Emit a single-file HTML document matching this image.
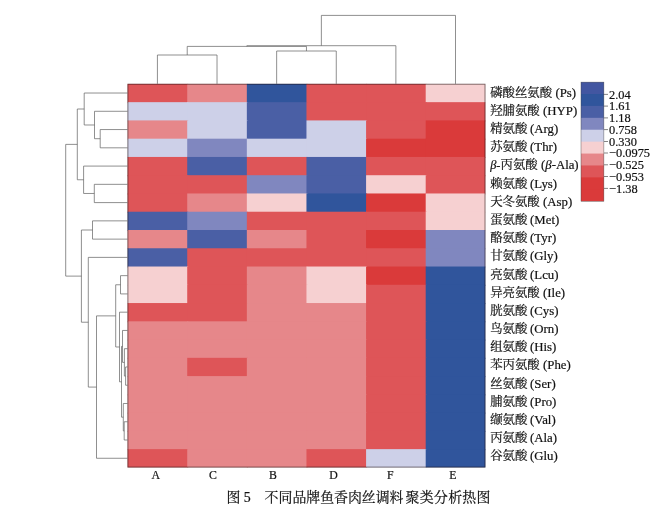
<!DOCTYPE html>
<html lang="zh"><head><meta charset="utf-8"><title>图 5 不同品牌鱼香肉丝调料聚类分析热图</title>
<style>
html,body{margin:0;padding:0;background:#fff;}
body{width:672px;height:510px;overflow:hidden;}
svg{display:block;}
text{font-family:"Liberation Serif","Noto Serif CJK SC",serif;fill:#111;stroke:#111;stroke-width:0.2px;}
.rl{font-size:12.4px;}
.en{font-size:12.8px;}
.cl{font-size:11.8px;}
.lg{font-size:12.4px;}
.cap{font-size:13.9px;}
.d{stroke:#606060;stroke-width:0.7;fill:none;}
</style></head><body>
<svg width="672" height="510" viewBox="0 0 672 510">
<rect x="0" y="0" width="672" height="510" fill="#fff"/>

<g>
<rect x="127.60" y="83.90" width="60.62" height="19.26" fill="#de5558"/>
<rect x="187.22" y="83.90" width="60.62" height="19.26" fill="#e6878a"/>
<rect x="246.84" y="83.90" width="60.62" height="19.26" fill="#30559c"/>
<rect x="306.46" y="83.90" width="60.62" height="19.26" fill="#de5558"/>
<rect x="366.08" y="83.90" width="60.62" height="19.26" fill="#de5558"/>
<rect x="425.70" y="83.90" width="59.62" height="19.26" fill="#f6d0d1"/>
<rect x="127.60" y="102.16" width="60.62" height="19.26" fill="#cdd0e8"/>
<rect x="187.22" y="102.16" width="60.62" height="19.26" fill="#cdd0e8"/>
<rect x="246.84" y="102.16" width="60.62" height="19.26" fill="#4a5fa5"/>
<rect x="306.46" y="102.16" width="60.62" height="19.26" fill="#de5558"/>
<rect x="366.08" y="102.16" width="60.62" height="19.26" fill="#de5558"/>
<rect x="425.70" y="102.16" width="59.62" height="19.26" fill="#de5558"/>
<rect x="127.60" y="120.42" width="60.62" height="19.26" fill="#e6878a"/>
<rect x="187.22" y="120.42" width="60.62" height="19.26" fill="#cdd0e8"/>
<rect x="246.84" y="120.42" width="60.62" height="19.26" fill="#4a5fa5"/>
<rect x="306.46" y="120.42" width="60.62" height="19.26" fill="#cdd0e8"/>
<rect x="366.08" y="120.42" width="60.62" height="19.26" fill="#de5558"/>
<rect x="425.70" y="120.42" width="59.62" height="19.26" fill="#da3a3a"/>
<rect x="127.60" y="138.69" width="60.62" height="19.26" fill="#cdd0e8"/>
<rect x="187.22" y="138.69" width="60.62" height="19.26" fill="#8087bf"/>
<rect x="246.84" y="138.69" width="60.62" height="19.26" fill="#cdd0e8"/>
<rect x="306.46" y="138.69" width="60.62" height="19.26" fill="#cdd0e8"/>
<rect x="366.08" y="138.69" width="60.62" height="19.26" fill="#da3a3a"/>
<rect x="425.70" y="138.69" width="59.62" height="19.26" fill="#da3a3a"/>
<rect x="127.60" y="156.95" width="60.62" height="19.26" fill="#de5558"/>
<rect x="187.22" y="156.95" width="60.62" height="19.26" fill="#4a5fa5"/>
<rect x="246.84" y="156.95" width="60.62" height="19.26" fill="#de5558"/>
<rect x="306.46" y="156.95" width="60.62" height="19.26" fill="#4a5fa5"/>
<rect x="366.08" y="156.95" width="60.62" height="19.26" fill="#de5558"/>
<rect x="425.70" y="156.95" width="59.62" height="19.26" fill="#de5558"/>
<rect x="127.60" y="175.21" width="60.62" height="19.26" fill="#de5558"/>
<rect x="187.22" y="175.21" width="60.62" height="19.26" fill="#de5558"/>
<rect x="246.84" y="175.21" width="60.62" height="19.26" fill="#8087bf"/>
<rect x="306.46" y="175.21" width="60.62" height="19.26" fill="#4a5fa5"/>
<rect x="366.08" y="175.21" width="60.62" height="19.26" fill="#f6d0d1"/>
<rect x="425.70" y="175.21" width="59.62" height="19.26" fill="#de5558"/>
<rect x="127.60" y="193.47" width="60.62" height="19.26" fill="#de5558"/>
<rect x="187.22" y="193.47" width="60.62" height="19.26" fill="#e6878a"/>
<rect x="246.84" y="193.47" width="60.62" height="19.26" fill="#f6d0d1"/>
<rect x="306.46" y="193.47" width="60.62" height="19.26" fill="#30559c"/>
<rect x="366.08" y="193.47" width="60.62" height="19.26" fill="#da3a3a"/>
<rect x="425.70" y="193.47" width="59.62" height="19.26" fill="#f6d0d1"/>
<rect x="127.60" y="211.73" width="60.62" height="19.26" fill="#4a5fa5"/>
<rect x="187.22" y="211.73" width="60.62" height="19.26" fill="#8087bf"/>
<rect x="246.84" y="211.73" width="60.62" height="19.26" fill="#de5558"/>
<rect x="306.46" y="211.73" width="60.62" height="19.26" fill="#de5558"/>
<rect x="366.08" y="211.73" width="60.62" height="19.26" fill="#de5558"/>
<rect x="425.70" y="211.73" width="59.62" height="19.26" fill="#f6d0d1"/>
<rect x="127.60" y="230.00" width="60.62" height="19.26" fill="#e6878a"/>
<rect x="187.22" y="230.00" width="60.62" height="19.26" fill="#4a5fa5"/>
<rect x="246.84" y="230.00" width="60.62" height="19.26" fill="#e6878a"/>
<rect x="306.46" y="230.00" width="60.62" height="19.26" fill="#de5558"/>
<rect x="366.08" y="230.00" width="60.62" height="19.26" fill="#da3a3a"/>
<rect x="425.70" y="230.00" width="59.62" height="19.26" fill="#8087bf"/>
<rect x="127.60" y="248.26" width="60.62" height="19.26" fill="#4a5fa5"/>
<rect x="187.22" y="248.26" width="60.62" height="19.26" fill="#de5558"/>
<rect x="246.84" y="248.26" width="60.62" height="19.26" fill="#de5558"/>
<rect x="306.46" y="248.26" width="60.62" height="19.26" fill="#de5558"/>
<rect x="366.08" y="248.26" width="60.62" height="19.26" fill="#de5558"/>
<rect x="425.70" y="248.26" width="59.62" height="19.26" fill="#8087bf"/>
<rect x="127.60" y="266.52" width="60.62" height="19.26" fill="#f6d0d1"/>
<rect x="187.22" y="266.52" width="60.62" height="19.26" fill="#de5558"/>
<rect x="246.84" y="266.52" width="60.62" height="19.26" fill="#e6878a"/>
<rect x="306.46" y="266.52" width="60.62" height="19.26" fill="#f6d0d1"/>
<rect x="366.08" y="266.52" width="60.62" height="19.26" fill="#da3a3a"/>
<rect x="425.70" y="266.52" width="59.62" height="19.26" fill="#30559c"/>
<rect x="127.60" y="284.78" width="60.62" height="19.26" fill="#f6d0d1"/>
<rect x="187.22" y="284.78" width="60.62" height="19.26" fill="#de5558"/>
<rect x="246.84" y="284.78" width="60.62" height="19.26" fill="#e6878a"/>
<rect x="306.46" y="284.78" width="60.62" height="19.26" fill="#f6d0d1"/>
<rect x="366.08" y="284.78" width="60.62" height="19.26" fill="#de5558"/>
<rect x="425.70" y="284.78" width="59.62" height="19.26" fill="#30559c"/>
<rect x="127.60" y="303.04" width="60.62" height="19.26" fill="#de5558"/>
<rect x="187.22" y="303.04" width="60.62" height="19.26" fill="#de5558"/>
<rect x="246.84" y="303.04" width="60.62" height="19.26" fill="#e6878a"/>
<rect x="306.46" y="303.04" width="60.62" height="19.26" fill="#e6878a"/>
<rect x="366.08" y="303.04" width="60.62" height="19.26" fill="#de5558"/>
<rect x="425.70" y="303.04" width="59.62" height="19.26" fill="#30559c"/>
<rect x="127.60" y="321.31" width="60.62" height="19.26" fill="#e6878a"/>
<rect x="187.22" y="321.31" width="60.62" height="19.26" fill="#e6878a"/>
<rect x="246.84" y="321.31" width="60.62" height="19.26" fill="#e6878a"/>
<rect x="306.46" y="321.31" width="60.62" height="19.26" fill="#e6878a"/>
<rect x="366.08" y="321.31" width="60.62" height="19.26" fill="#de5558"/>
<rect x="425.70" y="321.31" width="59.62" height="19.26" fill="#30559c"/>
<rect x="127.60" y="339.57" width="60.62" height="19.26" fill="#e6878a"/>
<rect x="187.22" y="339.57" width="60.62" height="19.26" fill="#e6878a"/>
<rect x="246.84" y="339.57" width="60.62" height="19.26" fill="#e6878a"/>
<rect x="306.46" y="339.57" width="60.62" height="19.26" fill="#e6878a"/>
<rect x="366.08" y="339.57" width="60.62" height="19.26" fill="#de5558"/>
<rect x="425.70" y="339.57" width="59.62" height="19.26" fill="#30559c"/>
<rect x="127.60" y="357.83" width="60.62" height="19.26" fill="#e6878a"/>
<rect x="187.22" y="357.83" width="60.62" height="19.26" fill="#de5558"/>
<rect x="246.84" y="357.83" width="60.62" height="19.26" fill="#e6878a"/>
<rect x="306.46" y="357.83" width="60.62" height="19.26" fill="#e6878a"/>
<rect x="366.08" y="357.83" width="60.62" height="19.26" fill="#de5558"/>
<rect x="425.70" y="357.83" width="59.62" height="19.26" fill="#30559c"/>
<rect x="127.60" y="376.09" width="60.62" height="19.26" fill="#e6878a"/>
<rect x="187.22" y="376.09" width="60.62" height="19.26" fill="#e6878a"/>
<rect x="246.84" y="376.09" width="60.62" height="19.26" fill="#e6878a"/>
<rect x="306.46" y="376.09" width="60.62" height="19.26" fill="#e6878a"/>
<rect x="366.08" y="376.09" width="60.62" height="19.26" fill="#de5558"/>
<rect x="425.70" y="376.09" width="59.62" height="19.26" fill="#30559c"/>
<rect x="127.60" y="394.35" width="60.62" height="19.26" fill="#e6878a"/>
<rect x="187.22" y="394.35" width="60.62" height="19.26" fill="#e6878a"/>
<rect x="246.84" y="394.35" width="60.62" height="19.26" fill="#e6878a"/>
<rect x="306.46" y="394.35" width="60.62" height="19.26" fill="#e6878a"/>
<rect x="366.08" y="394.35" width="60.62" height="19.26" fill="#de5558"/>
<rect x="425.70" y="394.35" width="59.62" height="19.26" fill="#30559c"/>
<rect x="127.60" y="412.62" width="60.62" height="19.26" fill="#e6878a"/>
<rect x="187.22" y="412.62" width="60.62" height="19.26" fill="#e6878a"/>
<rect x="246.84" y="412.62" width="60.62" height="19.26" fill="#e6878a"/>
<rect x="306.46" y="412.62" width="60.62" height="19.26" fill="#e6878a"/>
<rect x="366.08" y="412.62" width="60.62" height="19.26" fill="#de5558"/>
<rect x="425.70" y="412.62" width="59.62" height="19.26" fill="#30559c"/>
<rect x="127.60" y="430.88" width="60.62" height="19.26" fill="#e6878a"/>
<rect x="187.22" y="430.88" width="60.62" height="19.26" fill="#e6878a"/>
<rect x="246.84" y="430.88" width="60.62" height="19.26" fill="#e6878a"/>
<rect x="306.46" y="430.88" width="60.62" height="19.26" fill="#e6878a"/>
<rect x="366.08" y="430.88" width="60.62" height="19.26" fill="#de5558"/>
<rect x="425.70" y="430.88" width="59.62" height="19.26" fill="#30559c"/>
<rect x="127.60" y="449.14" width="60.62" height="18.26" fill="#de5558"/>
<rect x="187.22" y="449.14" width="60.62" height="18.26" fill="#e6878a"/>
<rect x="246.84" y="449.14" width="60.62" height="18.26" fill="#e6878a"/>
<rect x="306.46" y="449.14" width="60.62" height="18.26" fill="#de5558"/>
<rect x="366.08" y="449.14" width="60.62" height="18.26" fill="#cdd0e8"/>
<rect x="425.70" y="449.14" width="59.62" height="18.26" fill="#30559c"/>
</g>
<rect x="127.90" y="84.20" width="357.12" height="382.90" fill="none" stroke="#1a0a0a" stroke-opacity="0.58" stroke-width="0.9"/>
<text class="rl" x="490.2" y="96.80">磷酸丝氨酸<tspan dx="3.3" class="en">(Ps)</tspan></text>
<text class="rl" x="490.2" y="114.97">羟脯氨酸<tspan dx="3.3" class="en">(HYP)</tspan></text>
<text class="rl" x="490.2" y="133.14">精氨酸<tspan dx="2.7" class="en">(Arg)</tspan></text>
<text class="rl" x="490.2" y="151.31">苏氨酸<tspan dx="2.7" class="en">(Thr)</tspan></text>
<text class="rl" x="490.2" y="169.48"><tspan font-style="italic">β</tspan>-丙氨酸<tspan dx="3.3" class="en">(<tspan font-style="italic">β</tspan>-Ala)</tspan></text>
<text class="rl" x="490.2" y="187.65">赖氨酸<tspan dx="2.7" class="en">(Lys)</tspan></text>
<text class="rl" x="490.2" y="205.82">天冬氨酸<tspan dx="3.3" class="en">(Asp)</tspan></text>
<text class="rl" x="490.2" y="223.99">蛋氨酸<tspan dx="2.7" class="en">(Met)</tspan></text>
<text class="rl" x="490.2" y="242.16">酪氨酸<tspan dx="2.7" class="en">(Tyr)</tspan></text>
<text class="rl" x="490.2" y="260.33">甘氨酸<tspan dx="2.7" class="en">(Gly)</tspan></text>
<text class="rl" x="490.2" y="278.50">亮氨酸<tspan dx="2.7" class="en">(Lcu)</tspan></text>
<text class="rl" x="490.2" y="296.67">异亮氨酸<tspan dx="3.3" class="en">(Ile)</tspan></text>
<text class="rl" x="490.2" y="314.84">胱氨酸<tspan dx="2.7" class="en">(Cys)</tspan></text>
<text class="rl" x="490.2" y="333.01">鸟氨酸<tspan dx="2.7" class="en">(Orn)</tspan></text>
<text class="rl" x="490.2" y="351.18">组氨酸<tspan dx="2.7" class="en">(His)</tspan></text>
<text class="rl" x="490.2" y="369.35">苯丙氨酸<tspan dx="3.3" class="en">(Phe)</tspan></text>
<text class="rl" x="490.2" y="387.52">丝氨酸<tspan dx="2.7" class="en">(Ser)</tspan></text>
<text class="rl" x="490.2" y="405.69">脯氨酸<tspan dx="2.7" class="en">(Pro)</tspan></text>
<text class="rl" x="490.2" y="423.86">缬氨酸<tspan dx="2.7" class="en">(Val)</tspan></text>
<text class="rl" x="490.2" y="442.03">丙氨酸<tspan dx="2.7" class="en">(Ala)</tspan></text>
<text class="rl" x="490.2" y="460.20">谷氨酸<tspan dx="2.7" class="en">(Glu)</tspan></text>
<text class="cl" x="151.4" y="478.7">A</text>
<text class="cl" x="209.0" y="478.7">C</text>
<text class="cl" x="269.0" y="478.7">B</text>
<text class="cl" x="329.3" y="478.7">D</text>
<text class="cl" x="387.0" y="478.7">F</text>
<text class="cl" x="449.3" y="478.7">E</text>
<g>
<rect x="581" y="82.10" width="22.9" height="12.91" fill="#4256a1"/>
<rect x="581" y="94.01" width="22.9" height="12.91" fill="#30559c"/>
<rect x="581" y="105.92" width="22.9" height="12.91" fill="#4a5fa5"/>
<rect x="581" y="117.83" width="22.9" height="12.91" fill="#8087bf"/>
<rect x="581" y="129.74" width="22.9" height="12.91" fill="#cdd0e8"/>
<rect x="581" y="141.65" width="22.9" height="12.91" fill="#f6d0d1"/>
<rect x="581" y="153.56" width="22.9" height="12.91" fill="#e6878a"/>
<rect x="581" y="165.47" width="22.9" height="12.91" fill="#de5558"/>
<rect x="581" y="177.38" width="22.9" height="12.91" fill="#da3a3a"/>
<rect x="581" y="189.29" width="22.9" height="11.91" fill="#da3a3a"/>
</g>
<rect x="581" y="82.1" width="22.9" height="119.1" fill="none" stroke="#444" stroke-width="0.4"/>
<line x1="604" y1="94.4" x2="608" y2="94.4" stroke="#777" stroke-width="0.9"/>
<text class="lg" x="609.0" y="98.6">2.04</text>
<line x1="604" y1="106.1" x2="608" y2="106.1" stroke="#777" stroke-width="0.9"/>
<text class="lg" x="609.0" y="110.3">1.61</text>
<line x1="604" y1="117.9" x2="608" y2="117.9" stroke="#777" stroke-width="0.9"/>
<text class="lg" x="609.0" y="122.1">1.18</text>
<line x1="604" y1="129.6" x2="608" y2="129.6" stroke="#777" stroke-width="0.9"/>
<text class="lg" x="609.0" y="133.8">0.758</text>
<line x1="604" y1="141.5" x2="608" y2="141.5" stroke="#777" stroke-width="0.9"/>
<text class="lg" x="609.0" y="145.7">0.330</text>
<line x1="604" y1="153.0" x2="608" y2="153.0" stroke="#777" stroke-width="0.9"/>
<text class="lg" x="609.0" y="157.2">−0.0975</text>
<line x1="604" y1="164.8" x2="608" y2="164.8" stroke="#777" stroke-width="0.9"/>
<text class="lg" x="609.0" y="169.0">−0.525</text>
<line x1="604" y1="176.5" x2="608" y2="176.5" stroke="#777" stroke-width="0.9"/>
<text class="lg" x="609.0" y="180.7">−0.953</text>
<line x1="604" y1="188.4" x2="608" y2="188.4" stroke="#777" stroke-width="0.9"/>
<text class="lg" x="609.0" y="192.6">−1.38</text>
<text class="cap" x="226.4" y="501.6"><tspan>图 5</tspan><tspan x="264.6">不同品牌鱼香肉丝调料</tspan><tspan x="405.6" letter-spacing="0.3">聚类分析热图</tspan></text>
<path class="d" d="M127.60 129.56H100.20V147.82H127.60 M127.60 111.29H94.50V138.69H100.20 M127.60 93.03H84.20V124.99H94.50 M127.60 184.34H94.30V202.60H127.60 M127.60 166.08H83.60V193.47H94.30 M84.20 109.01H77.30V179.78H83.60 M127.60 220.87H92.50V239.13H127.60 M127.60 275.65H120.50V293.91H127.60 M127.60 366.96H125.60V385.22H127.60 M127.60 348.70H124.40V376.09H125.60 M127.60 330.44H122.50V362.40H124.40 M127.60 421.75H124.20V440.01H127.60 M127.60 403.49H123.30V430.88H124.20 M122.50 346.42H121.50V417.18H123.30 M127.60 312.18H119.50V381.80H121.50 M120.50 284.78H115.70V346.99H119.50 M115.70 315.88H96.50V458.27H127.60 M127.60 257.39H88.30V387.08H96.50 M92.50 230.00H81.40V322.23H88.30 M77.30 144.39H65.70V276.11H81.40 M157.41 83.90V55.00H217.03V83.90 M276.65 83.90V51.00H336.27V83.90 M187.22 55.00V46.40H306.46V51.00 M246.84 46.40V45.70H395.89V83.90 M321.37 45.70V15.40H455.51V83.90"/>
</svg></body></html>
